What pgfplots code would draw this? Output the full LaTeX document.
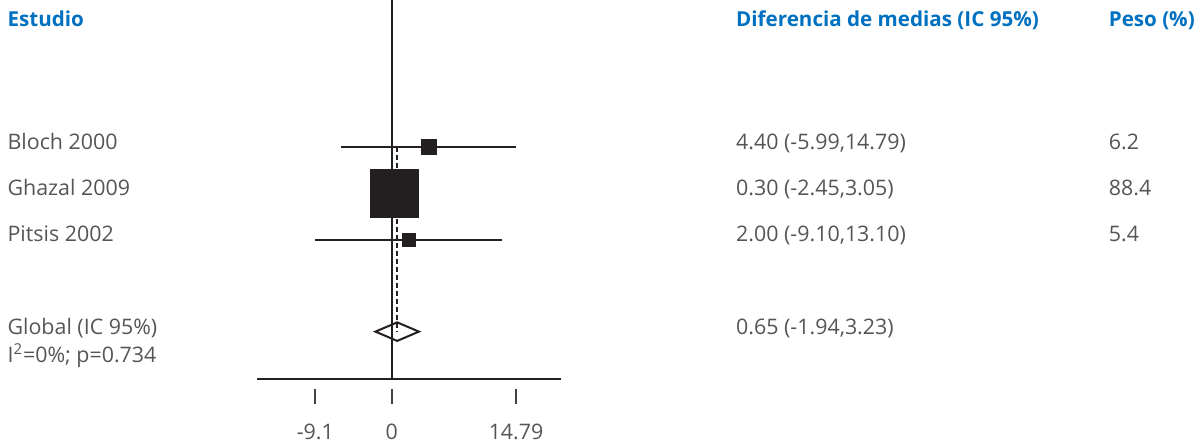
\documentclass[border=0pt]{standalone}
\usepackage{fontspec}
\setmainfont{Open Sans}
\usepackage{pgfplots}
\pgfplotsset{compat=1.18}
\definecolor{fg}{HTML}{231F20}
\definecolor{txt}{HTML}{555555}
\definecolor{hdr}{HTML}{0070C0}
\tikzset{
  txtn/.style={anchor=base west, inner sep=0pt, font=\fontsize{10.7pt}{12pt}\selectfont, text=txt},
  hdrn/.style={anchor=base west, inner sep=0pt, font=\fontsize{10.3pt}{12pt}\selectfont\bfseries, text=hdr},
}
\begin{document}
\begin{tikzpicture}
\useasboundingbox (-128.65pt,-32pt) rectangle (471.85pt,189.5pt);
\begin{axis}[
  at={(0,0)}, anchor=south west,
  scale only axis, width=151.7pt, height=189.5pt,
  xmin=-16, xmax=20.1, ymin=-6, ymax=2.161,
  hide axis, clip=false,
  every axis plot/.append style={line cap=butt},
]
% axis line and reference line
\addplot[fg, line width=1pt] coordinates {(-16,-6) (20.1,-6)};
\addplot[fg, line width=1pt] coordinates {(0,-6) (0,2.161)};
% ticks
\addplot[fg!85, line width=1pt] coordinates {(-9.1,-6.226) (-9.1,-6.548)};
\addplot[fg!85, line width=1pt] coordinates {(0,-6.226) (0,-6.548)};
\addplot[fg!85, line width=1pt] coordinates {(14.79,-6.226) (14.79,-6.548)};
% confidence intervals
\addplot[fg, line width=1pt] coordinates {(-5.99,-1) (14.79,-1)};
\addplot[fg, line width=1pt] coordinates {(-2.45,-2) (3.05,-2)};
\addplot[fg, line width=1pt] coordinates {(-9.10,-3) (13.10,-3)};
% pooled estimate dashed line
\addplot[fg, line width=0.95pt, dash pattern=on 2.6pt off 1.4pt] coordinates {(0.65,-1) (0.65,-4.98)};
% diamond
\addplot[fg, line width=1pt, line join=miter] coordinates {(-1.94,-4.98) (0.65,-4.78) (3.23,-4.98) (0.65,-5.18) (-1.94,-4.98) (0.65,-4.78)};
% squares
\addplot[only marks, mark=square*, mark size=3.6pt, mark options={fill=fg, draw=fg, line width=0.1pt}] coordinates {(4.40,-1)};
\addplot[only marks, mark=square*, mark size=11.9pt, mark options={fill=fg, draw=fg, line width=0.1pt}] coordinates {(0.30,-2)};
\addplot[only marks, mark=square*, mark size=3.1pt, mark options={fill=fg, draw=fg, line width=0.1pt}] coordinates {(2.00,-3)};
% headers
\node[hdrn] at (axis cs:-45.76,1.587) {Estudio};
\node[hdrn] at (axis cs:40.93,1.587) {Diferencia de medias (IC 95\%)};
\node[hdrn] at (axis cs:85.27,1.587) {Peso (\%)};
% rows
\node[txtn] at (axis cs:-45.76,-1.05) {Bloch 2000};
\node[txtn] at (axis cs:-45.76,-2.05) {Ghazal 2009};
\node[txtn] at (axis cs:-45.76,-3.05) {Pitsis 2002};
\node[txtn] at (axis cs:-45.76,-5.043) {Global (IC 95\%)};
\node[txtn] at (axis cs:-45.76,-5.652) {I\textsuperscript{2}=0\%; p=0.734};
\node[txtn] at (axis cs:40.93,-1.05) {4.40 (-5.99,14.79)};
\node[txtn] at (axis cs:40.93,-2.05) {0.30 (-2.45,3.05)};
\node[txtn] at (axis cs:40.93,-3.05) {2.00 (-9.10,13.10)};
\node[txtn] at (axis cs:40.93,-5.043) {0.65 (-1.94,3.23)};
\node[txtn] at (axis cs:85.27,-1.05) {6.2};
\node[txtn] at (axis cs:85.27,-2.05) {88.4};
\node[txtn] at (axis cs:85.27,-3.05) {5.4};
% tick labels
\node[txtn, anchor=base] at (axis cs:-9.1,-7.30) {-9.1};
\node[txtn, anchor=base] at (axis cs:0,-7.30) {0};
\node[txtn, anchor=base] at (axis cs:14.79,-7.30) {14.79};
\end{axis}
\end{tikzpicture}
\end{document}
